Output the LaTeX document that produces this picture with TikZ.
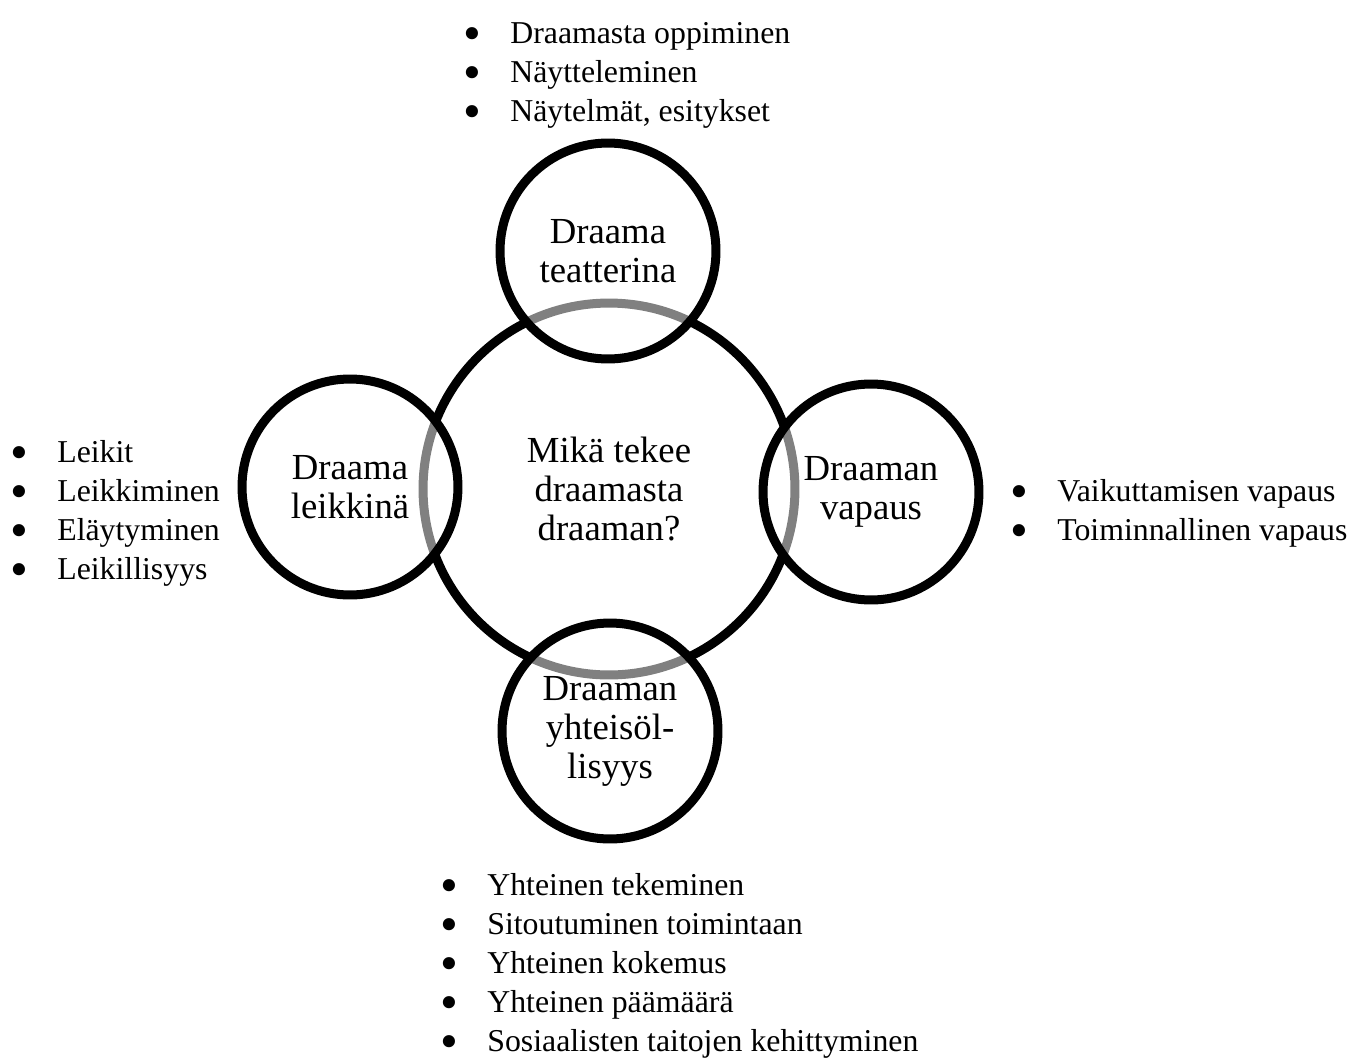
\documentclass[tikz,border=0pt]{standalone}
\usepackage{fontspec}
\setmainfont{Liberation Serif}
\usepackage{tikz}
\usetikzlibrary{positioning}
\newcommand\circfont{\fontsize{20.9}{22.2}\selectfont}
\newcommand\listfont{\fontsize{18.1}{22.2}\selectfont}
\newcommand\bul{\makebox[0.94cm][l]{\raisebox{-0.22em}[0pt][0pt]{\scalebox{1.6}{\textbullet}}}}
\tikzset{
    dramadiagram/.style={x=0.02cm, y=-0.02cm, font=\circfont},
    hub/.style={draw, circle, line width=0.18cm, minimum size=7.44cm, inner sep=0pt, align=center},
    % small circles: half-transparent white fill greys the hub ring under them
    petal/.style={draw, circle, line width=0.18cm, minimum size=4.32cm, inner sep=0pt, align=center,
        fill=white, fill opacity=0.5, text opacity=1},
    item/.style={anchor=base west, inner sep=0pt, font=\listfont},
}
\begin{document}
\begin{tikzpicture}[dramadiagram]
    \useasboundingbox (0,0) rectangle (1367,1059);

    \node[hub]   (core)      at (609,489) {Mikä tekee\\draamasta\\draaman?};
    \node[petal] (theatre)   at (608,251) {Draama\\teatterina};
    \node[petal] (play)      at (350,487) {Draama\\leikkinä};
    \node[petal] (freedom)   at (871,492) {Draaman\\vapaus};
    \node[petal] (community) at (610,731) {Draaman\\yhteisöl-\\lisyys};

    \foreach \txt [count=\i from 0] in {Draamasta oppiminen, Näytteleminen, {Näytelmät, esitykset}}
        \node[item] (theatre-\i) at (463, 43+39*\i) {\bul\txt};
    \foreach \txt [count=\i from 0] in {Leikit, Leikkiminen, Eläytyminen, Leikillisyys}
        \node[item] (play-\i) at (10, 462+39*\i) {\bul\txt};
    \foreach \txt [count=\i from 0] in {Vaikuttamisen vapaus, Toiminnallinen vapaus}
        \node[item] (freedom-\i) at (1010, 501+39*\i) {\bul\txt};
    \foreach \txt [count=\i from 0] in {Yhteinen tekeminen, Sitoutuminen toimintaan, Yhteinen kokemus,
        Yhteinen päämäärä, Sosiaalisten taitojen kehittyminen}
        \node[item] (community-\i) at (440, 895+39*\i) {\bul\txt};
\end{tikzpicture}
\end{document}
